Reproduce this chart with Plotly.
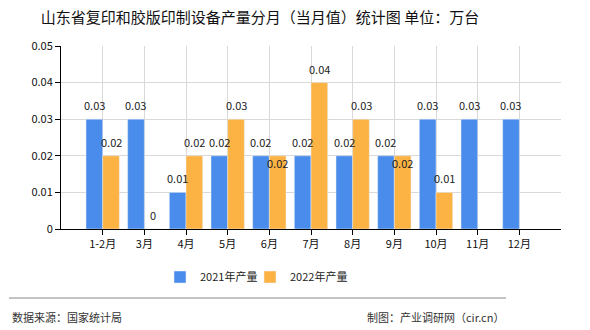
import plotly.graph_objects as go

categories = ["1-2月", "3月", "4月", "5月", "6月", "7月", "8月", "9月", "10月", "11月", "12月"]
vals_2021 = [0.03, 0.03, 0.01, 0.02, 0.02, 0.02, 0.02, 0.02, 0.03, 0.03, 0.03]
vals_2022 = [0.02, 0, 0.02, 0.03, 0.02, 0.04, 0.03, 0.02, 0.01, None, None]
y_ticks = [0, 0.01, 0.02, 0.03, 0.04, 0.05]
y_tick_labels = ["0", "0.01", "0.02", "0.03", "0.04", "0.05"]

FONT = "Noto Sans CJK SC"
W, H = 590, 330
L, R, T, B = 61, 29, 46, 101
pw, ph = W - L - R, H - T - B

def px(x):
    return (x - L) / pw

def py(y):
    return (H - B - y) / ph

def fmt(v):
    return None if v is None else ("0" if v == 0 else f"{v:.2f}")

fig = go.Figure()
fig.add_trace(go.Bar(
    x=categories, y=vals_2021, name="2021年产量", marker_color="#4A8CEB",
    legend="legend",
))
fig.add_trace(go.Bar(
    x=categories, y=vals_2022, name="2022年产量", marker_color="#FDB343",
    legend="legend2",
))

# value labels above each bar
slot = pw / (len(categories) + 1)
half = slot * 0.8 / 4
for c, v in zip(categories, vals_2021):
    if v is None:
        continue
    fig.add_annotation(x=c, y=v, xref="x", yref="y", text=fmt(v),
                       xshift=-half, yshift=4, yanchor="bottom", showarrow=False,
                       font=dict(size=11, color="#222", family=FONT))
for c, v, v1 in zip(categories, vals_2022, vals_2021):
    if v is None:
        continue
    if v1 is not None and v == v1:
        # avoid overlap with neighbouring label: place just below bar top
        fig.add_annotation(x=c, y=v, xref="x", yref="y", text=fmt(v),
                           xshift=half, yshift=-7, yanchor="middle", showarrow=False,
                           font=dict(size=11, color="#222", family=FONT))
    else:
        fig.add_annotation(x=c, y=v, xref="x", yref="y", text=fmt(v),
                           xshift=half, yshift=4, yanchor="bottom", showarrow=False,
                           font=dict(size=11, color="#222", family=FONT))

leg_common = dict(orientation="h", y=py(277), yanchor="middle", xanchor="left",
                  font=dict(size=11, color="#222", family=FONT),
                  itemwidth=30, bgcolor="rgba(0,0,0,0)")

fig.update_layout(
    width=W, height=H,
    margin=dict(l=L, r=R, t=T, b=B),
    paper_bgcolor="white", plot_bgcolor="white",
    barmode="group", bargap=0.2, bargroupgap=0,
    font=dict(family=FONT, size=11, color="#222"),
    title=dict(text="山东省复印和胶版印制设备产量分月（当月值）统计图 单位：万台",
               x=260 / W, xref="container", xanchor="center",
               y=1 - 18 / H, yref="container", yanchor="middle",
               font=dict(size=15, color="#111", family=FONT)),
    showlegend=True,
    legend=dict(x=px(160), **leg_common),
    legend2=dict(x=px(250), **leg_common),
)
fig.update_xaxes(
    type="category", range=[-1, len(categories)],
    showline=True, linecolor="#000", linewidth=1,
    ticks="outside", ticklen=5, tickcolor="#000",
    showgrid=True, gridcolor="#d9d9d9", gridwidth=1,
    tickfont=dict(size=11, color="#111", family=FONT),
)
fig.update_yaxes(
    range=[0, 0.05], tickvals=y_ticks, ticktext=y_tick_labels,
    showline=True, linecolor="#000", linewidth=1,
    ticks="outside", ticklen=5, tickcolor="#000",
    showgrid=True, gridcolor="#d9d9d9", gridwidth=1,
    zeroline=False,
    tickfont=dict(size=11, color="#111", family=FONT),
)

# footer separator line
fig.add_shape(type="line", xref="paper", yref="paper",
              x0=px(9), x1=px(506), y0=py(298), y1=py(298),
              line=dict(color="#888", width=1))
fig.add_annotation(text="数据来源：国家统计局", xref="paper", yref="paper",
                   x=px(10), y=py(317), xanchor="left", yanchor="middle",
                   showarrow=False, font=dict(size=11, color="#333", family=FONT))
fig.add_annotation(text="制图：产业调研网（cir.cn）", xref="paper", yref="paper",
                   x=px(506), y=py(317), xanchor="right", yanchor="middle",
                   showarrow=False, font=dict(size=11, color="#333", family=FONT))

fig.write_html("out.html")
